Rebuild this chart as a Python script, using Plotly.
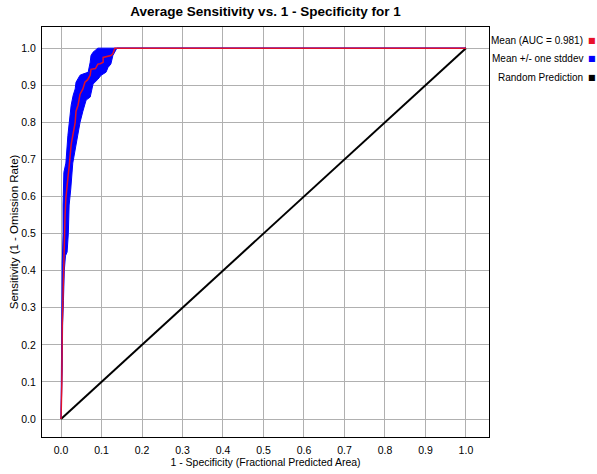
#!/usr/bin/env python3
# Average ROC curve (Maxent style): mean sensitivity vs fractional predicted area,
# with a +/- one stddev band and the random prediction diagonal.

import plotly.graph_objects as go

# mean curve
mean_x = [0, 0.002, 0.003, 0.005, 0.007, 0.009, 0.010, 0.012, 0.015, 0.017, 0.020, 0.022,
          0.025, 0.030, 0.035, 0.037, 0.042, 0.047, 0.054, 0.059, 0.066, 0.072, 0.074,
          0.085, 0.091, 0.097, 0.104, 0.104, 0.115, 0.123, 0.128, 0.133, 1.0]
mean_y = [0, 0.10, 0.25, 0.36, 0.42, 0.50, 0.55, 0.596, 0.62, 0.65, 0.68, 0.70,
          0.74, 0.77, 0.80, 0.83, 0.846, 0.876, 0.89, 0.908, 0.915, 0.927, 0.943,
          0.945, 0.957, 0.958, 0.962, 0.975, 0.978, 0.98, 0.985, 1.0, 1.0]

# mean + one stddev (upper / left edge of band)
upper_x = [0, 0.0005, 0.001, 0.002, 0.003, 0.005, 0.005, 0.007, 0.012, 0.017, 0.020, 0.025,
           0.030, 0.035, 0.037, 0.042, 0.047, 0.054, 0.067, 0.072, 0.074, 0.079, 0.091, 1.0]
upper_y = [0, 0.10, 0.26, 0.35, 0.42, 0.50, 0.577, 0.665, 0.69, 0.765, 0.80, 0.846,
           0.873, 0.89, 0.908, 0.918, 0.927, 0.930, 0.935, 0.962, 0.98, 0.989, 1.0, 1.0]

# mean - one stddev (lower / right edge of band)
lower_x = [0, 0.002, 0.003, 0.004, 0.006, 0.008, 0.011, 0.015, 0.018, 0.020, 0.024, 0.029,
           0.037, 0.047, 0.054, 0.059, 0.062, 0.072, 0.074, 0.079, 0.091, 0.099, 0.111,
           0.116, 0.123, 0.128, 0.138, 1.0]
lower_y = [0, 0.10, 0.14, 0.26, 0.32, 0.40, 0.44, 0.45, 0.50, 0.577, 0.62, 0.69,
           0.74, 0.80, 0.83, 0.846, 0.86, 0.868, 0.88, 0.903, 0.916, 0.927, 0.935,
           0.948, 0.957, 0.98, 1.0, 1.0]

random_x = [0, 1]
random_y = [0, 1]

legend_labels = ["Mean (AUC = 0.981)", "Mean +/- one stddev", "Random Prediction"]
legend_colors = ["#e8102a", "#0000ff", "#000000"]

tick_vals = [i / 10 for i in range(11)]
tick_text = [f"{v:.1f}" for v in tick_vals]

FONT = "Liberation Sans, Arial"

fig = go.Figure()

# band polygon: upper edge forward, lower edge back
fig.add_trace(go.Scatter(
    x=upper_x + lower_x[::-1],
    y=upper_y + lower_y[::-1],
    fill="toself",
    fillcolor="#0000ff",
    line=dict(color="#0000ff", width=1),
    mode="lines",
    hoverinfo="skip",
    showlegend=False,
))

fig.add_trace(go.Scatter(
    x=random_x, y=random_y, mode="lines",
    line=dict(color="#000000", width=2),
    showlegend=False,
))

fig.add_trace(go.Scatter(
    x=mean_x, y=mean_y, mode="lines",
    line=dict(color="#e0102a", width=1.5),
    showlegend=False,
))

# legend drawn as text, marker on the right like the original
for i, (lab, col) in enumerate(zip(legend_labels, legend_colors)):
    y = 0.966 - i * 0.044
    fig.add_annotation(
        x=1.2148, y=y, xref="paper", yref="paper",
        text=lab, showarrow=False, xanchor="right", yanchor="middle",
        font=dict(family=FONT, size=10, color="#000000"),
    )
    fig.add_annotation(
        x=1.2305, y=y, xref="paper", yref="paper",
        text=f"<span style='color:{col}'>■</span>", showarrow=False,
        xanchor="center", yanchor="middle",
        font=dict(family="DejaVu Sans", size=8),
    )

# y axis title as rotated text so it sits where the original has it
fig.add_annotation(
    x=-0.062, y=0.5, xref="paper", yref="paper",
    text="Sensitivity (1 - Omission Rate)", showarrow=False, textangle=-90,
    xanchor="center", yanchor="middle",
    font=dict(family=FONT, size=11.5, color="#000000"),
)

fig.update_layout(
    width=597, height=474,
    margin=dict(l=42, r=108, t=27, b=37, autoexpand=False),
    paper_bgcolor="white",
    plot_bgcolor="white",
    title=dict(
        text="<b>Average Sensitivity vs. 1 - Specificity for 1</b>",
        x=0.5, xref="paper", xanchor="center",
        y=1 - 11 / 474, yref="container", yanchor="middle",
        font=dict(family=FONT, size=13.5, color="#000000"),
    ),
    font=dict(family=FONT, size=11, color="#000000"),
)

fig.update_xaxes(
    range=[-0.047, 1.057],
    tickvals=tick_vals, ticktext=tick_text,
    showgrid=True, gridcolor="#b0b0b0", gridwidth=1,
    zeroline=False, automargin=False,
    showline=True, linecolor="#000000", linewidth=1, mirror=True,
    ticks="", ticklabelstandoff=3,
    tickfont=dict(family=FONT, size=10.5),
    title=dict(text="1 - Specificity (Fractional Predicted Area)", standoff=2,
               font=dict(family=FONT, size=10.5)),
)
fig.update_yaxes(
    range=[-0.0485, 1.057],
    tickvals=tick_vals, ticktext=tick_text,
    showgrid=True, gridcolor="#b0b0b0", gridwidth=1,
    zeroline=False, automargin=False,
    showline=True, linecolor="#000000", linewidth=1, mirror=True,
    ticks="", ticklabelstandoff=3,
    tickfont=dict(family=FONT, size=10.5),
)

# page has a default 8px body margin; drop it so the figure sits at 0,0
fig.write_html("out.html", config={"displayModeBar": False},
               post_script="document.body.style.margin='0';")
